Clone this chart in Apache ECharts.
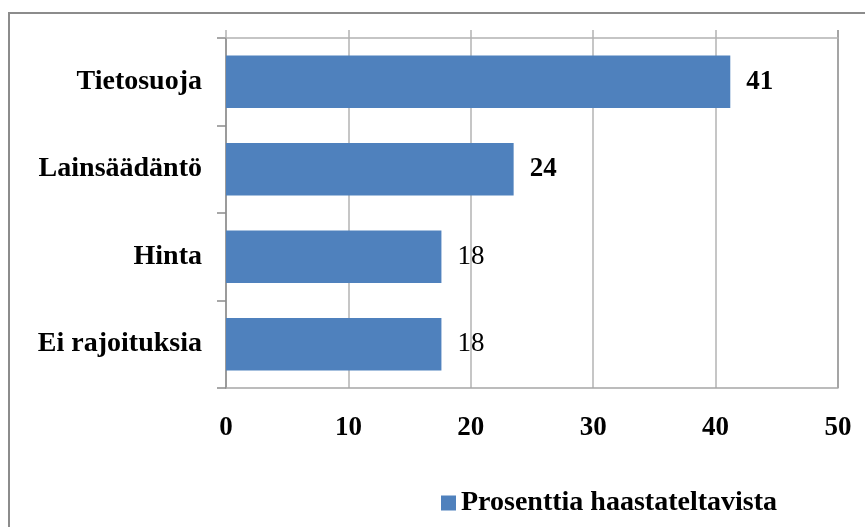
<!DOCTYPE html>
<html><head><meta charset="utf-8">
<script src="https://cdn.jsdelivr.net/npm/echarts@6/dist/echarts.min.js"></script>
<style>html,body{margin:0;padding:0;background:#fff}#c{width:865px;height:527px}
#frame{position:absolute;left:8px;top:12px;width:880px;height:540px;border:2px solid #8c8c8c;box-sizing:border-box;pointer-events:none}</style>
</head><body><div id="c"></div><div id="frame"></div>
<script>
var categories = ['Ei rajoituksia', 'Hinta', 'Lainsäädäntö', 'Tietosuoja'];
var values = [17.6, 17.6, 23.5, 41.2];
var labels = ['18', '18', '24', '41'];
var labelBold = [false, false, true, true];
var seriesName = 'Prosenttia haastateltavista';
var xTicks = [0, 10, 20, 30, 40, 50];

var font = 'Liberation Serif';
var chart = echarts.init(document.getElementById('c'));
var data = values.map(function (v, i) {
  return {value: v, label: {fontFamily: font, fontSize: 27, fontWeight: labelBold[i] ? 'bold' : 'normal', color: '#000', padding: [6, 0, 0, 0]}};
});
chart.setOption({
  animation: false,
  grid: {left: 226, right: 27, top: 38, bottom: 139, containLabel: false},
  legend: {
    data: [{name: seriesName, icon: 'rect'}], left: 436, top: 484, itemWidth: 15, itemHeight: 15, itemGap: 6,
    textStyle: {fontFamily: font, fontSize: 28, fontWeight: 'bold', color: '#000'}
  },
  xAxis: [{
    type: 'value', min: xTicks[0], max: xTicks[xTicks.length - 1], interval: 10,
    axisLine: {show: true, onZero: false, lineStyle: {color: '#a6a6a6', width: 1.5}}, axisTick: {show: false},
    splitLine: {lineStyle: {color: '#b3b3b3', width: 1.5}},
    axisLabel: {fontFamily: font, fontSize: 27, fontWeight: 'bold', color: '#000', margin: 27}
  }, {
    type: 'value', position: 'top', min: 0, max: 50, interval: 10,
    axisLine: {show: true, lineStyle: {color: '#b3b3b3', width: 1.5}},
    axisTick: {show: true, length: 8, lineStyle: {color: '#b3b3b3', width: 1.5}},
    axisLabel: {show: false}, splitLine: {show: false}
  }],
  yAxis: {
    type: 'category', data: categories,
    axisLine: {lineStyle: {color: '#8c8c8c', width: 1.5}},
    axisTick: {show: true, length: 9, lineStyle: {color: '#8c8c8c', width: 1.5}},
    axisLabel: {fontFamily: font, fontSize: 28, fontWeight: 'bold', color: '#000', margin: 24, padding: [6, 0, 0, 0]}
  },
  series: [{
    name: seriesName, type: 'bar', data: data, barCategoryGap: '40%',
    itemStyle: {color: '#4f81bd'},
    label: {
      show: true, position: 'right', distance: 16,
      formatter: function (p) { return labels[p.dataIndex]; }
    }
  }],
  graphic: [{type: 'line', shape: {x1: 838, y1: 30, x2: 838, y2: 388}, style: {stroke: '#555', lineWidth: 1.5}}]
});
</script></body></html>
